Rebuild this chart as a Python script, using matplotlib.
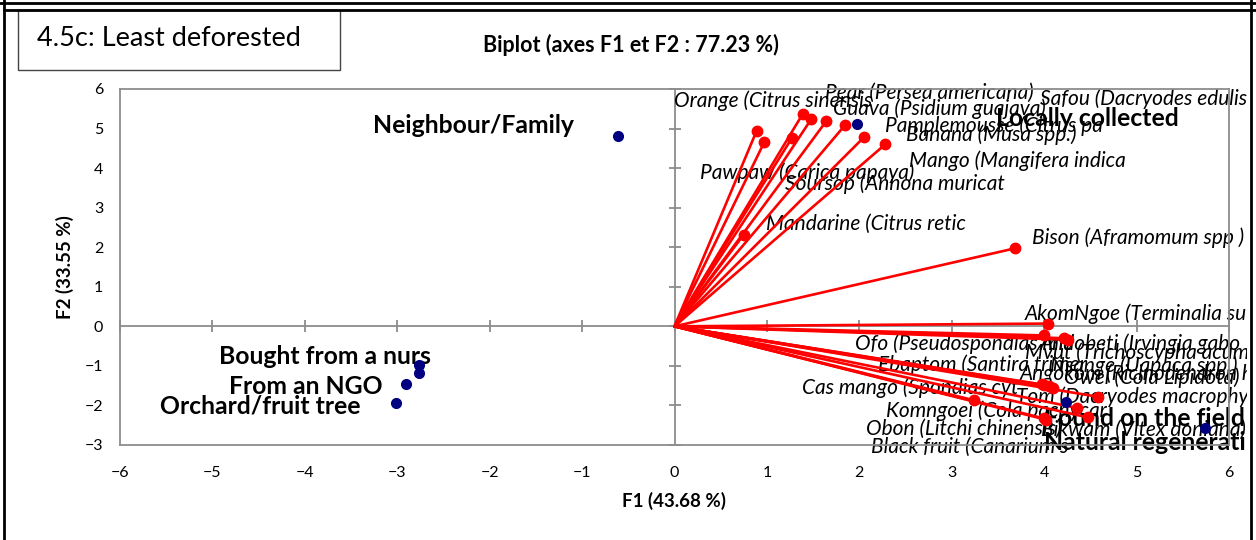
import matplotlib
matplotlib.use("Agg")
import matplotlib.pyplot as plt
from matplotlib.lines import Line2D
from matplotlib.patches import Rectangle
from matplotlib.transforms import Bbox, TransformedBbox

# ---------------- data ----------------
var_names = ["Orange (Citrus sinensis", "Pawpaw (Carica papaya)", "Soursop (Annona muricat",
             "Pear (Persea americana)", "Guava (Psidium guajava)", "Safou (Dacryodes edulis",
             "Pamplemousse (Citrus pa", "Banana (Musa spp.)", "Mango (Mangifera indica",
             "Mandarine (Citrus retic", "Bison (Aframomum spp )", "AkomNgoe (Terminalia su",
             "Ofo (Pseudospondias mic", "Andobeti (Irvingia gabo", "Mvut (Trichoscypha acum",
             "Ebaptom (Santira trimer", "Nsange (Uapaca spp.)", "Angokom (Ricinodendron h",
             "Owel (Cola Lipidota)", "Cas mango (Spondias cyt", "Tom (Dacryodes macrophy",
             "Komngoei (Cola pachycar", "Obon (Litchi chinensis)", "Bikwam (Vitex doniana)",
             "Black fruit (Canarium s"]
var_f1 = [0.89, 0.97, 1.27, 1.39, 1.48, 1.64, 1.85, 2.05, 2.28, 0.75, 3.68, 4.04,
          4.00, 4.26, 4.22, 4.00, 4.10, 4.05, 4.58, 3.98, 4.35, 3.24, 4.00, 4.47, 4.02]
var_f2 = [4.95, 4.65, 4.76, 5.38, 5.24, 5.18, 5.10, 4.78, 4.60, 2.32, 1.97, 0.07,
          -0.23, -0.34, -0.30, -1.49, -1.56, -1.52, -1.78, -1.47, -2.06, -1.87, -2.33, -2.30, -2.36]

obs_names = ["Neighbour/Family", "Locally collected", "Bought from a nurs", "",
             "From an NGO", "Orchard/fruit tree", "Found on the field", "Natural regenerati"]
obs_f1 = [-0.61, 1.98, -2.76, -2.76, -2.91, -3.01, 4.24, 5.74]
obs_f2 = [4.80, 5.11, -0.985, -1.19, -1.47, -1.94, -1.92, -2.56]

x_ticks = list(range(-6, 7))
y_ticks = list(range(-3, 7))
title = "Biplot (axes F1 et F2 : 77.23 %)"
x_label = "F1 (43.68 %)"
y_label = "F2 (33.55 %)"
panel_label = "4.5c: Least deforested"

# label placement (layout, data coordinates of the left/centre of each label)
var_lab_x = [0.0, 0.28, 1.20, 1.63, 1.71, 3.96, 2.28, 2.50, 2.54, 0.99, 3.87, 3.79,
             1.95, 3.95, 3.79, 2.20, 4.06, 3.74, 4.22, 1.38, 3.69, 2.29, 2.07, 3.97, 2.13]
var_lab_y = [5.70, 3.875, 3.60, 5.91, 5.51, 5.76, 5.06, 4.85, 4.19, 2.60, 2.24, 0.31,
             -0.45, -0.45, -0.66, -0.96, -1.00, -1.20, -1.30, -1.55, -1.79, -2.13, -2.59, -2.61, -3.06]
obs_lab_x = [-3.26, 3.48, -4.93, 0, -4.82, -5.57, 4.0, 4.0]
obs_lab_y = [5.08, 5.25, -0.75, 0, -1.53, -2.02, -2.32, -2.93]

# ---------------- figure ----------------
W, H = 1256, 540
fig = plt.figure(figsize=(W / 100, H / 100), dpi=100)
plt.rcParams['font.family'] = ['Lato', 'DejaVu Sans']

def fx(px):
    return px / W

def fy(py):
    return 1 - py / H

ax = fig.add_axes([fx(120), fy(445), fx(1229) - fx(120), fy(89) - fy(445)])
ax.set_xlim(-6, 6)
ax.set_ylim(-3, 6)
grey = "#8c8c8c"
for s in ax.spines.values():
    s.set_color(grey)
    s.set_linewidth(1.3)

ax.set_xticks(x_ticks)
ax.set_yticks(y_ticks)
ax.tick_params(axis='both', length=0, labelsize=11.5, colors='black')
ax.tick_params(axis='x', pad=15)
ax.tick_params(axis='y', pad=12)

# zero axes with crossing ticks
ax.axhline(0, color=grey, lw=1.3, zorder=1)
ax.axvline(0, color=grey, lw=1.3, zorder=1)
ax.plot(x_ticks, [0] * len(x_ticks), ls='none', marker='|', ms=9,
        mew=1.3, color=grey, zorder=1, clip_on=False)
ax.plot([0] * len(y_ticks), y_ticks, ls='none', marker='_', ms=9,
        mew=1.3, color=grey, zorder=1, clip_on=False)

clipbox = TransformedBbox(Bbox.from_extents(0, 0, fx(1247), 1), fig.transFigure)

# vectors
for x, y in zip(var_f1, var_f2):
    ax.plot([0, x], [0, y], color='#ff0000', lw=1.9, zorder=3, solid_capstyle='round')
ax.plot(var_f1, var_f2, ls='none', marker='o', ms=7.5, color='#ff0000', zorder=4)
for name, lx, ly in zip(var_names, var_lab_x, var_lab_y):
    t = ax.text(lx, ly, name, ha='left', va='center', fontsize=15, style='italic',
                color='black', zorder=2)
    t.set_clip_box(clipbox)
    t.set_clip_on(True)

# observations
ax.plot(obs_f1, obs_f2, ls='none', marker='o', ms=7, color='#000080', zorder=5)
for name, lx, ly in zip(obs_names, obs_lab_x, obs_lab_y):
    if name:
        t = ax.text(lx, ly, name, ha='left', va='center', fontsize=17.8, fontweight='bold',
                    color='black', zorder=2)
        t.set_clip_box(clipbox)
        t.set_clip_on(True)

ax.set_xlabel(x_label, fontsize=13.5, fontweight='bold', labelpad=9)
ax.set_ylabel(y_label, fontsize=13.5, fontweight='bold', labelpad=8)

fig.text(fx(631), fy(45), title, ha='center', va='center', fontsize=15.5, fontweight='bold')

# panel label box
fig.patches.append(Rectangle((fx(18), fy(70)), fx(340) - fx(18), fy(10) - fy(70),
                             transform=fig.transFigure, fill=True, facecolor='white',
                             edgecolor='#444444', lw=1.0))
fig.text(fx(37), fy(39), panel_label, ha='left', va='center', fontsize=19.5)

# outer borders
for (x0, y0, x1, y1, lw) in [(0, 3, W, 3, 2.0), (4, 10, W, 10, 2.0), (4, 0, 4, H, 2.0),
                             (1251, 0, 1251, H, 2.0)]:
    fig.add_artist(Line2D([fx(x0), fx(x1)], [fy(y0), fy(y1)], transform=fig.transFigure,
                          color='black', lw=lw))

fig.savefig("out.png", dpi=100)
